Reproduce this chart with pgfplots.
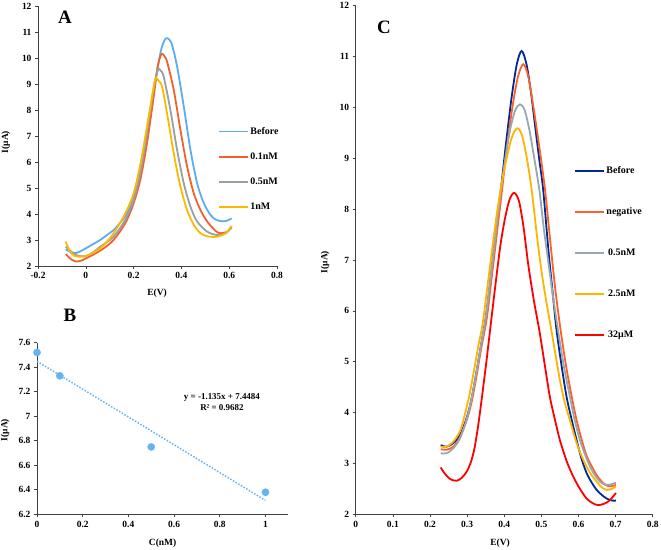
\documentclass[border=0pt]{standalone}
\usepackage{fontspec}
\setmainfont{Liberation Serif}
\usepackage{pgfplots}
\pgfplotsset{compat=1.18}
\definecolor{skyA}{RGB}{92,172,240}
\definecolor{aOne}{RGB}{242,96,46}
\definecolor{aFive}{RGB}{150,160,166}
\definecolor{aNM}{RGB}{255,184,0}
\definecolor{bBlue}{RGB}{100,180,240}
\definecolor{cBefore}{RGB}{0,40,150}
\definecolor{cNeg}{RGB}{255,96,42}
\definecolor{cFive}{RGB}{150,168,176}
\definecolor{cTwo}{RGB}{255,180,0}
\definecolor{cRed}{RGB}{255,0,0}
\tikzset{panelletter/.style={font=\fontsize{19}{20}\selectfont\bfseries}}
\pgfplotsset{
  panel/.style={
    scale only axis,
    axis lines=left,
    axis line style={-, black!75, line width=0.6bp},
    tick align=outside,
    major tick length=3bp,
    tick style={black!75, line width=0.6bp},
    tick label style={font=\fontsize{9.5}{10}\selectfont\bfseries},
    /pgf/number format/assume math mode=true,
    label style={font=\fontsize{9.5}{10}\selectfont\bfseries},
    clip=false,
    legend image code/.code={\draw[##1, line width=1.8bp] (0bp,0bp) -- (29bp,0bp);},
    legend cell align=left,
  },
}
\begin{document}
\begin{tikzpicture}
\useasboundingbox (0,0) rectangle (661bp,550bp);
% ---------------- Panel A ----------------
\begin{axis}[panel,
  at={(38bp,284bp)}, anchor=south west,
  width=239bp, height=260bp,
  xmin=-0.2, xmax=0.8, ymin=2, ymax=12,
  xtick={-0.2,0,0.2,0.4,0.6,0.8},
  ytick={2,3,4,5,6,7,8,9,10,11,12},
  xticklabels={-0.2,0,0.2,0.4,0.6,0.8},
  xlabel={E(V)}, ylabel={I(μA)},
  x label style={at={(axis description cs:0.498,-0.104)}, anchor=center},
  y label style={at={(axis description cs:-0.134,0.477)}, anchor=center},
  legend style={at={(axis description cs:0.753,0.54)}, anchor=north west,
    draw=none, fill=none, font=\fontsize{10}{11}\selectfont\bfseries,
    row sep=14bp, inner sep=0pt, nodes={inner sep=1.5bp}},
]
\addplot[draw=skyA, line width=1.8bp, smooth, tension=0.5] coordinates {
(-0.084,2.64)(-0.06,2.52)(-0.04,2.50)(-0.02,2.58)(0,2.68)(0.03,2.84)(0.06,3.0)(0.09,3.2)
(0.116,3.38)(0.145,3.68)(0.172,4.03)(0.2,4.67)(0.228,5.82)(0.256,7.1)(0.284,8.77)
(0.312,10.18)(0.325,10.6)(0.336,10.76)(0.348,10.72)(0.361,10.5)(0.382,9.67)(0.41,8.13)
(0.438,6.46)(0.466,5.18)(0.494,4.41)(0.522,3.96)(0.545,3.78)(0.57,3.72)(0.59,3.74)(0.61,3.83)};
\addlegendentry{Before}
\addplot[draw=aOne, line width=1.8bp, smooth, tension=0.5] coordinates {
(-0.084,2.46)(-0.06,2.25)(-0.038,2.17)(-0.015,2.22)(0,2.29)(0.03,2.43)(0.06,2.59)(0.09,2.78)
(0.116,3.0)(0.145,3.35)(0.172,3.77)(0.2,4.41)(0.228,5.31)(0.256,6.72)(0.284,8.51)
(0.301,9.67)(0.316,10.15)(0.328,10.08)(0.34,9.86)(0.368,8.77)(0.396,7.23)(0.424,5.82)
(0.452,4.79)(0.48,4.15)(0.508,3.71)(0.543,3.35)(0.564,3.26)(0.592,3.32)(0.61,3.51)};
\addlegendentry{0.1nM}
\addplot[draw=aFive, line width=1.8bp, smooth, tension=0.5] coordinates {
(-0.084,2.74)(-0.06,2.55)(-0.04,2.42)(-0.02,2.38)(0,2.38)(0.03,2.52)(0.06,2.74)(0.09,2.93)
(0.116,3.13)(0.145,3.48)(0.172,3.9)(0.2,4.54)(0.228,5.56)(0.256,7.1)(0.284,8.83)
(0.302,9.55)(0.314,9.5)(0.326,9.28)(0.354,8.0)(0.382,6.46)(0.41,5.18)(0.438,4.28)
(0.466,3.71)(0.508,3.32)(0.55,3.19)(0.585,3.26)(0.61,3.47)};
\addlegendentry{0.5nM}
\addplot[draw=aNM, line width=1.8bp, smooth, tension=0.5] coordinates {
(-0.084,2.94)(-0.066,2.55)(-0.045,2.38)(-0.031,2.36)(0,2.38)(0.03,2.5)(0.06,2.68)(0.09,2.95)
(0.116,3.26)(0.145,3.68)(0.172,4.15)(0.2,4.79)(0.228,5.88)(0.256,7.36)(0.277,8.51)
(0.291,9.2)(0.305,9.12)(0.319,8.9)(0.34,7.87)(0.368,6.33)(0.396,5.05)(0.424,4.15)
(0.452,3.58)(0.48,3.26)(0.515,3.13)(0.55,3.13)(0.585,3.26)(0.61,3.54)};
\addlegendentry{1nM}
\node[panelletter] at (axis description cs:0.113,0.958) {A};
\end{axis}
% ---------------- Panel B ----------------
\begin{axis}[panel,
  at={(37bp,35.7bp)}, anchor=south west,
  width=251.3bp, height=171.6bp,
  xmin=0, xmax=1.1, ymin=6.2, ymax=7.6,
  xtick={0,0.2,0.4,0.6,0.8,1},
  xticklabels={0,0.2,0.4,0.6,0.8,1},
  ytick={6.2,6.4,6.6,6.8,7,7.2,7.4,7.6},
  yticklabels={6.2,6.4,6.6,6.8,7,7.2,7.4,7.6},
  xlabel={C(nM)}, ylabel={I(μA)},
  x label style={at={(axis description cs:0.50,-0.167)}, anchor=center},
  y label style={at={(axis description cs:-0.127,0.491)}, anchor=center},
]
\addplot[color=bBlue, line width=1.5bp, dash pattern=on 1.5bp off 1.6bp] coordinates {(0,7.4484)(1,6.3134)};
\addplot[color=bBlue, only marks, mark=*, mark size=3.6bp, mark options={draw=bBlue, fill=bBlue, solid}] coordinates {
(0,7.52)(0.1,7.33)(0.5,6.75)(1,6.38)};
\node[font=\fontsize{9}{10.5}\selectfont\bfseries, align=center] at (axis description cs:0.736,0.655) {y = -1.135x + 7.4484\\R² = 0.9682};
\node[panelletter] at (axis description cs:0.131,1.161) {B};
\end{axis}
% ---------------- Panel C ----------------
\begin{axis}[panel,
  at={(355.7bp,35.7bp)}, anchor=south west,
  width=297bp, height=508.6bp,
  xmin=0, xmax=0.8, ymin=2, ymax=12,
  xtick={0,0.1,0.2,0.3,0.4,0.5,0.6,0.7,0.8},
  xticklabels={0,0.1,0.2,0.3,0.4,0.5,0.6,0.7,0.8},
  ytick={2,3,4,5,6,7,8,9,10,11,12},
  xlabel={E(V)}, ylabel={I(μA)},
  x label style={at={(axis description cs:0.486,-0.056)}, anchor=center},
  y label style={at={(axis description cs:-0.103,0.496)}, anchor=center},
  legend style={at={(axis description cs:0.735,0.687)}, anchor=north west,
    draw=none, fill=none, font=\fontsize{10}{11}\selectfont\bfseries,
    row sep=29.8bp, inner sep=0pt, nodes={inner sep=1.5bp}},
]
\addplot[draw=cBefore, line width=1.8bp, smooth, tension=0.5] coordinates {
(0.229,3.36)(0.245,3.33)(0.263,3.40)(0.280,3.55)(0.297,3.85)(0.310,4.2)(0.323,4.7)(0.337,5.3)
(0.351,5.9)(0.365,6.75)(0.378,7.6)(0.391,8.38)(0.405,9.3)(0.420,10.2)(0.434,10.85)(0.447,11.11)
(0.460,10.85)(0.472,10.3)(0.483,9.65)(0.494,9.0)(0.505,8.38)(0.519,7.2)(0.530,6.4)(0.541,5.62)
(0.555,4.9)(0.568,4.31)(0.582,3.85)(0.595,3.46)(0.608,3.1)(0.622,2.81)(0.636,2.62)(0.649,2.48)
(0.663,2.38)(0.676,2.31)(0.690,2.27)(0.701,2.27)};
\addlegendentry{Before}
\addplot[draw=cNeg, line width=1.8bp, smooth, tension=0.5] coordinates {
(0.229,3.28)(0.245,3.27)(0.263,3.33)(0.280,3.5)(0.299,3.85)(0.312,4.2)(0.325,4.7)(0.339,5.3)
(0.353,5.85)(0.367,6.7)(0.380,7.5)(0.393,8.3)(0.407,9.2)(0.422,10.0)(0.437,10.6)(0.4515,10.85)
(0.465,10.6)(0.480,9.95)(0.495,9.2)(0.510,8.38)(0.525,7.3)(0.538,6.4)(0.552,5.62)(0.567,4.9)
(0.582,4.31)(0.595,3.85)(0.609,3.46)(0.622,3.15)(0.636,2.94)(0.650,2.76)(0.663,2.64)(0.675,2.57)
(0.687,2.55)(0.701,2.58)};
\addlegendentry{negative}
\addplot[draw=cFive, line width=1.8bp, smooth, tension=0.5] coordinates {
(0.229,3.20)(0.245,3.20)(0.263,3.30)(0.280,3.48)(0.297,3.82)(0.310,4.2)(0.323,4.7)(0.337,5.3)
(0.350,5.85)(0.364,6.7)(0.377,7.5)(0.390,8.3)(0.403,9.0)(0.417,9.6)(0.430,9.95)(0.4426,10.06)
(0.455,9.95)(0.468,9.55)(0.481,9.0)(0.4946,8.38)(0.507,7.6)(0.520,6.9)(0.532,6.25)(0.545,5.62)
(0.561,4.9)(0.577,4.31)(0.590,3.85)(0.604,3.46)(0.618,3.17)(0.631,2.94)(0.645,2.76)(0.658,2.64)
(0.670,2.59)(0.682,2.58)(0.701,2.62)};
\addlegendentry{\,0.5nM}
\addplot[draw=cTwo, line width=1.8bp, smooth, tension=0.5] coordinates {
(0.229,3.33)(0.245,3.33)(0.263,3.43)(0.280,3.62)(0.290,3.85)(0.305,4.3)(0.318,4.8)(0.330,5.3)
(0.342,5.75)(0.357,6.6)(0.370,7.35)(0.382,8.0)(0.393,8.5)(0.405,8.95)(0.420,9.4)(0.435,9.59)
(0.448,9.45)(0.461,9.0)(0.474,8.38)(0.487,7.55)(0.500,6.8)(0.513,6.2)(0.527,5.62)(0.539,5.1)
(0.550,4.64)(0.563,4.2)(0.577,3.85)(0.595,3.4)(0.613,3.07)(0.631,2.82)(0.649,2.64)(0.663,2.53)
(0.676,2.48)(0.690,2.50)(0.701,2.55)};
\addlegendentry{\,2.5nM}
\addplot[draw=cRed, line width=1.8bp, smooth, tension=0.5] coordinates {
(0.229,2.92)(0.240,2.80)(0.255,2.69)(0.272,2.66)(0.286,2.72)(0.299,2.84)(0.310,3.02)(0.320,3.3)
(0.330,3.75)(0.340,4.3)(0.352,5.0)(0.364,5.75)(0.377,6.55)(0.390,7.3)(0.403,7.85)(0.415,8.2)
(0.4273,8.32)(0.440,8.15)(0.452,7.65)(0.465,6.9)(0.480,6.2)(0.495,5.6)(0.509,4.95)(0.523,4.31)
(0.537,3.85)(0.550,3.46)(0.568,3.05)(0.586,2.74)(0.604,2.50)(0.622,2.31)(0.638,2.22)(0.653,2.18)
(0.670,2.21)(0.685,2.28)(0.701,2.42)};
\addlegendentry{\,32μM}
\node[panelletter] at (axis description cs:0.095,0.958) {C};
\end{axis}
\end{tikzpicture}
\end{document}
